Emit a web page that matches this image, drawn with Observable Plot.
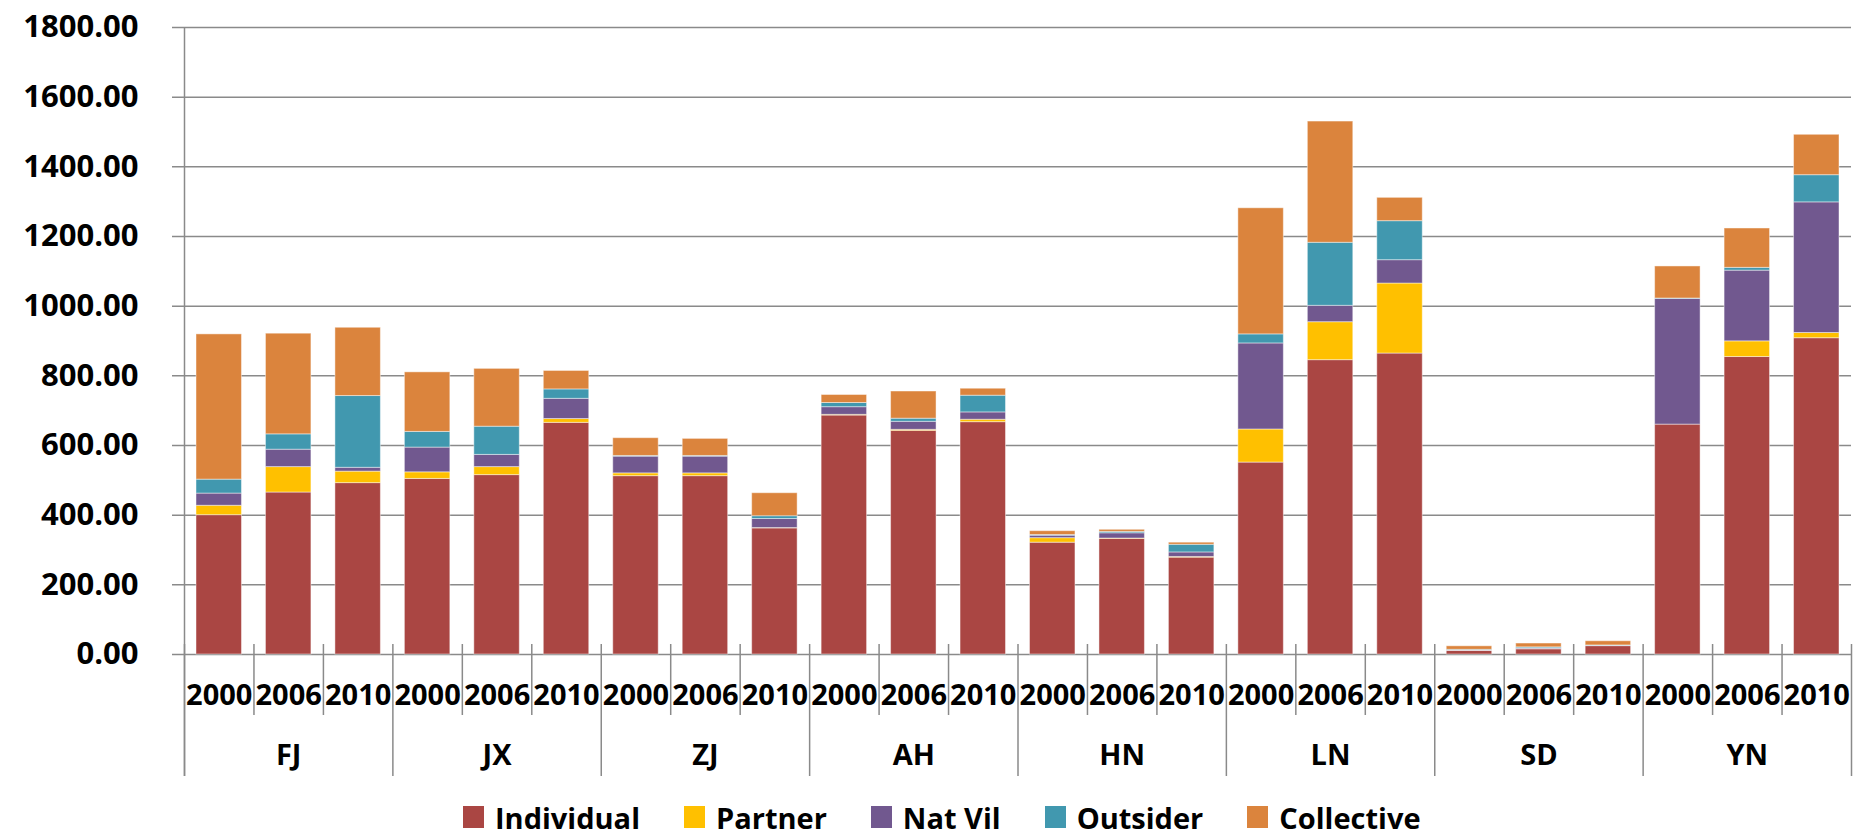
<!DOCTYPE html>
<html>
<head>
<meta charset="utf-8">
<script src="https://cdn.jsdelivr.net/npm/d3@7"></script>
<script src="https://cdn.jsdelivr.net/npm/@observablehq/plot@0.6"></script>
<style>
  html, body { margin: 0; padding: 0; background: #fff; }
  #chart svg { display: block; }
  #legend {
    height: 44px; box-sizing: border-box; padding-top: 10px; padding-left: 463px;
    display: flex; align-items: center;
    font-family: 'Open Sans', sans-serif; font-weight: bold; font-size: 29px; color: #000;
    line-height: 1;
  }
  #legend .item { display: flex; align-items: center; margin-right: 44px; line-height: 1; }
  #legend .sw { width: 21px; height: 22px; margin-right: 11px; }
</style>
</head>
<body>
<div id="chart"></div>
<div id="legend"></div>
<script>
const provinces = ["FJ", "JX", "ZJ", "AH", "HN", "LN", "SD", "YN"];
const years = ["2000", "2006", "2010"];
const series = ["Individual", "Partner", "Nat Vil", "Outsider", "Collective"];
const colors = ["#AA4643", "#FFC000", "#71588F", "#4198AF", "#DB843D"];

// one value per bar, in order FJ 2000, FJ 2006, FJ 2010, JX 2000, ...
const individual = [400, 465, 492, 504, 515, 665, 512, 512, 362, 686, 642, 667, 321, 332, 278, 551, 845, 864, 10, 15, 24, 660, 854, 908];
const partner    = [27, 73, 33, 19, 23, 11, 8, 8, 1, 2, 3, 7, 13, 1, 2, 95, 109, 201, 0.5, 0.5, 0.5, 0, 45, 15];
const natVil     = [35, 50, 11, 71, 35, 58, 48, 48, 26, 22, 23, 21, 7, 15, 13, 247, 47, 67, 1, 2, 0.5, 361, 203, 375];
const outsider   = [40, 44, 206, 45, 81, 27, 2, 2, 8, 12, 9, 48, 2, 4, 22, 26, 181, 112, 2, 3, 1, 1, 8, 78];
const collective = [417, 289, 196, 171, 166, 53, 51, 49, 66, 23, 78, 20, 11, 6, 6, 362, 348, 67, 10, 11, 12, 92, 113, 116];

const yTicks = [0, 200, 400, 600, 800, 1000, 1200, 1400, 1600, 1800];

const seriesValues = [individual, partner, natVil, outsider, collective];
const bars = [];
provinces.forEach((p, g) => years.forEach((yr, k) => bars.push({province: p, year: yr, i: g * 3 + k})));
const rows = [];
bars.forEach((b, n) => series.forEach((s, j) => rows.push({...b, series: s, value: seriesValues[j][n]})));

const groupBounds = d3.range(0, provinces.length + 1).map(g => g * years.length);
const yearBounds = d3.range(0, bars.length + 1).filter(i => i % years.length !== 0);

const gridColor = "#8a8a8a";
const fmt = d3.format(".2f");

const chart = Plot.plot({
  width: 1855,
  height: 790,
  marginLeft: 184,
  marginRight: 4,
  marginTop: 27,
  marginBottom: 136,
  x: {domain: [0, bars.length], axis: null},
  y: {domain: [0, 1800], axis: null},
  color: {domain: series, range: colors},
  style: {fontFamily: "'Open Sans', sans-serif", color: "#000", background: "#fff", overflow: "visible"},
  marks: [
    Plot.ruleY(yTicks, {y: d => d, stroke: gridColor, strokeWidth: 1.5, insetLeft: -12}),
    Plot.rectY(rows, {
      x1: d => d.i, x2: d => d.i + 1, y: "value", fill: "series",
      insetLeft: 12, insetRight: 12, stroke: "#fff", strokeOpacity: 0.45, strokeWidth: 1
    }),
    Plot.ruleX([0], {x: d => d, stroke: gridColor, strokeWidth: 1.5, insetBottom: -122}),
    Plot.ruleX(groupBounds, {x: d => d, y1: () => 0, y2: () => 0, stroke: gridColor, strokeWidth: 1.5, insetTop: -10, insetBottom: -122}),
    Plot.ruleX(yearBounds, {x: d => d, y1: () => 0, y2: () => 0, stroke: gridColor, strokeWidth: 1.5, insetTop: -10, insetBottom: -61}),
    Plot.text(yTicks, {y: d => d, text: d => fmt(d), frameAnchor: "left", dx: -46, textAnchor: "end", fontSize: 31, fontWeight: "bold", fill: "#000"}),
    Plot.text(bars, {x: d => d.i + 0.5, text: "year", frameAnchor: "bottom", dy: 41, lineAnchor: "middle", fontSize: 29, fontWeight: "bold", fill: "#000"}),
    Plot.text(provinces, {x: (d, g) => g * years.length + years.length / 2, text: d => d, frameAnchor: "bottom", dy: 101, lineAnchor: "middle", fontSize: 29, fontWeight: "bold", fill: "#000"})
  ]
});
document.getElementById("chart").appendChild(chart);

const legend = document.getElementById("legend");
series.forEach((s, j) => {
  const item = document.createElement("div");
  item.className = "item";
  const sw = document.createElement("span");
  sw.className = "sw";
  sw.style.background = colors[j];
  const label = document.createElement("span");
  label.textContent = s;
  item.appendChild(sw);
  item.appendChild(label);
  legend.appendChild(item);
});
</script>
</body>
</html>
